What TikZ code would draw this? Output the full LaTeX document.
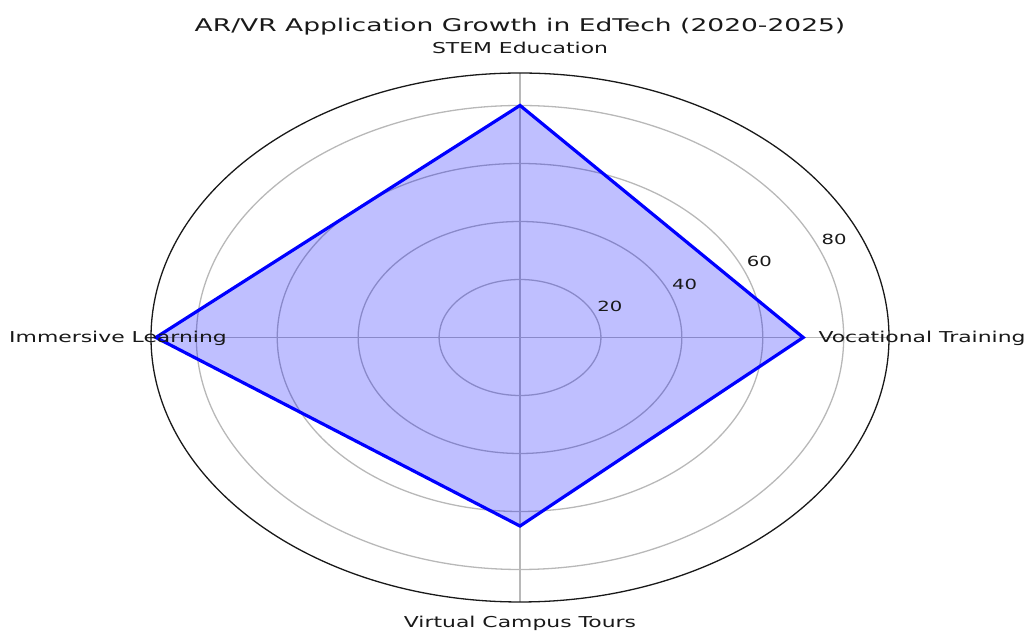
\documentclass[tikz,border=0pt]{standalone}
\usepackage{fontspec}
\setmainfont{DejaVu Sans}
\usepackage{graphicx}
% matplotlib output was stretched sideways, so the text is too
\newcommand{\wide}[1]{\scalebox{1.46}[1]{#1}}

\begin{document}
\begin{tikzpicture}[x=1pt, y=1pt,
  % Grid styles
  rim/.style={draw=black!90, line width=1.3pt},
  gridline/.style={draw=black!28, line width=1.3pt},
  % Data style
  datapoly/.style={draw=blue, line width=3.2pt, line join=miter,
    fill=blue, fill opacity=0.25},
  % Label styles
  axlbl/.style={font=\fontsize{15}{18}\selectfont, text=black!90,
    inner sep=0pt, anchor=base},
  rlbl/.style={font=\fontsize{14}{16}\selectfont, text=black!90,
    inner sep=0pt, anchor=base west},
  charttitle/.style={font=\fontsize{17.5}{21}\selectfont, text=black!90,
    inner sep=0pt, anchor=base},
]
\useasboundingbox (0,0) rectangle (1027,631);

% Radius of the outer rim (data units)
\def\rmax{91.2}

% --- Polar axes ---
\begin{scope}[shift={(520,293.5)}, xscale=4.046, yscale=2.9]
  \foreach \r in {20,40,60,80}
    \draw[gridline] (0,0) circle (\r);
  \foreach \a in {0,90,180,270}
    \draw[gridline] (0,0) -- (\a:\rmax);

  % data points
  \coordinate (voc) at (0:70);
  \coordinate (stem) at (90:80);
  \coordinate (imm) at (180:90);
  \coordinate (vir) at (270:65);
  \draw[datapoly] (voc) -- (stem) -- (imm) -- (vir) -- cycle;

  \draw[rim] (0,0) circle (\rmax);

  % radial tick labels
  \foreach \r in {20,40,60,80}
    \node[rlbl, xshift=2.5pt, yshift=4pt] (r\r) at (22.5:\r) {\scalebox{1.4}[1]{\r}};
\end{scope}

% --- Category labels ---
\node[axlbl] (lstem) at (520,577.5) {\wide{STEM Education}};
\node[axlbl] (lvoc) at (922,288.5) {\wide{Vocational Training}};
\node[axlbl] (limm) at (118,288.5) {\wide{Immersive Learning}};
\node[axlbl] (lvir) at (520,3) {\wide{Virtual Campus Tours}};

% Title
\node[charttitle] (title) at (520,599)
  {\scalebox{1.515}[1]{AR/VR Application Growth in EdTech (2020-2025)}};

\end{tikzpicture}
\end{document}
